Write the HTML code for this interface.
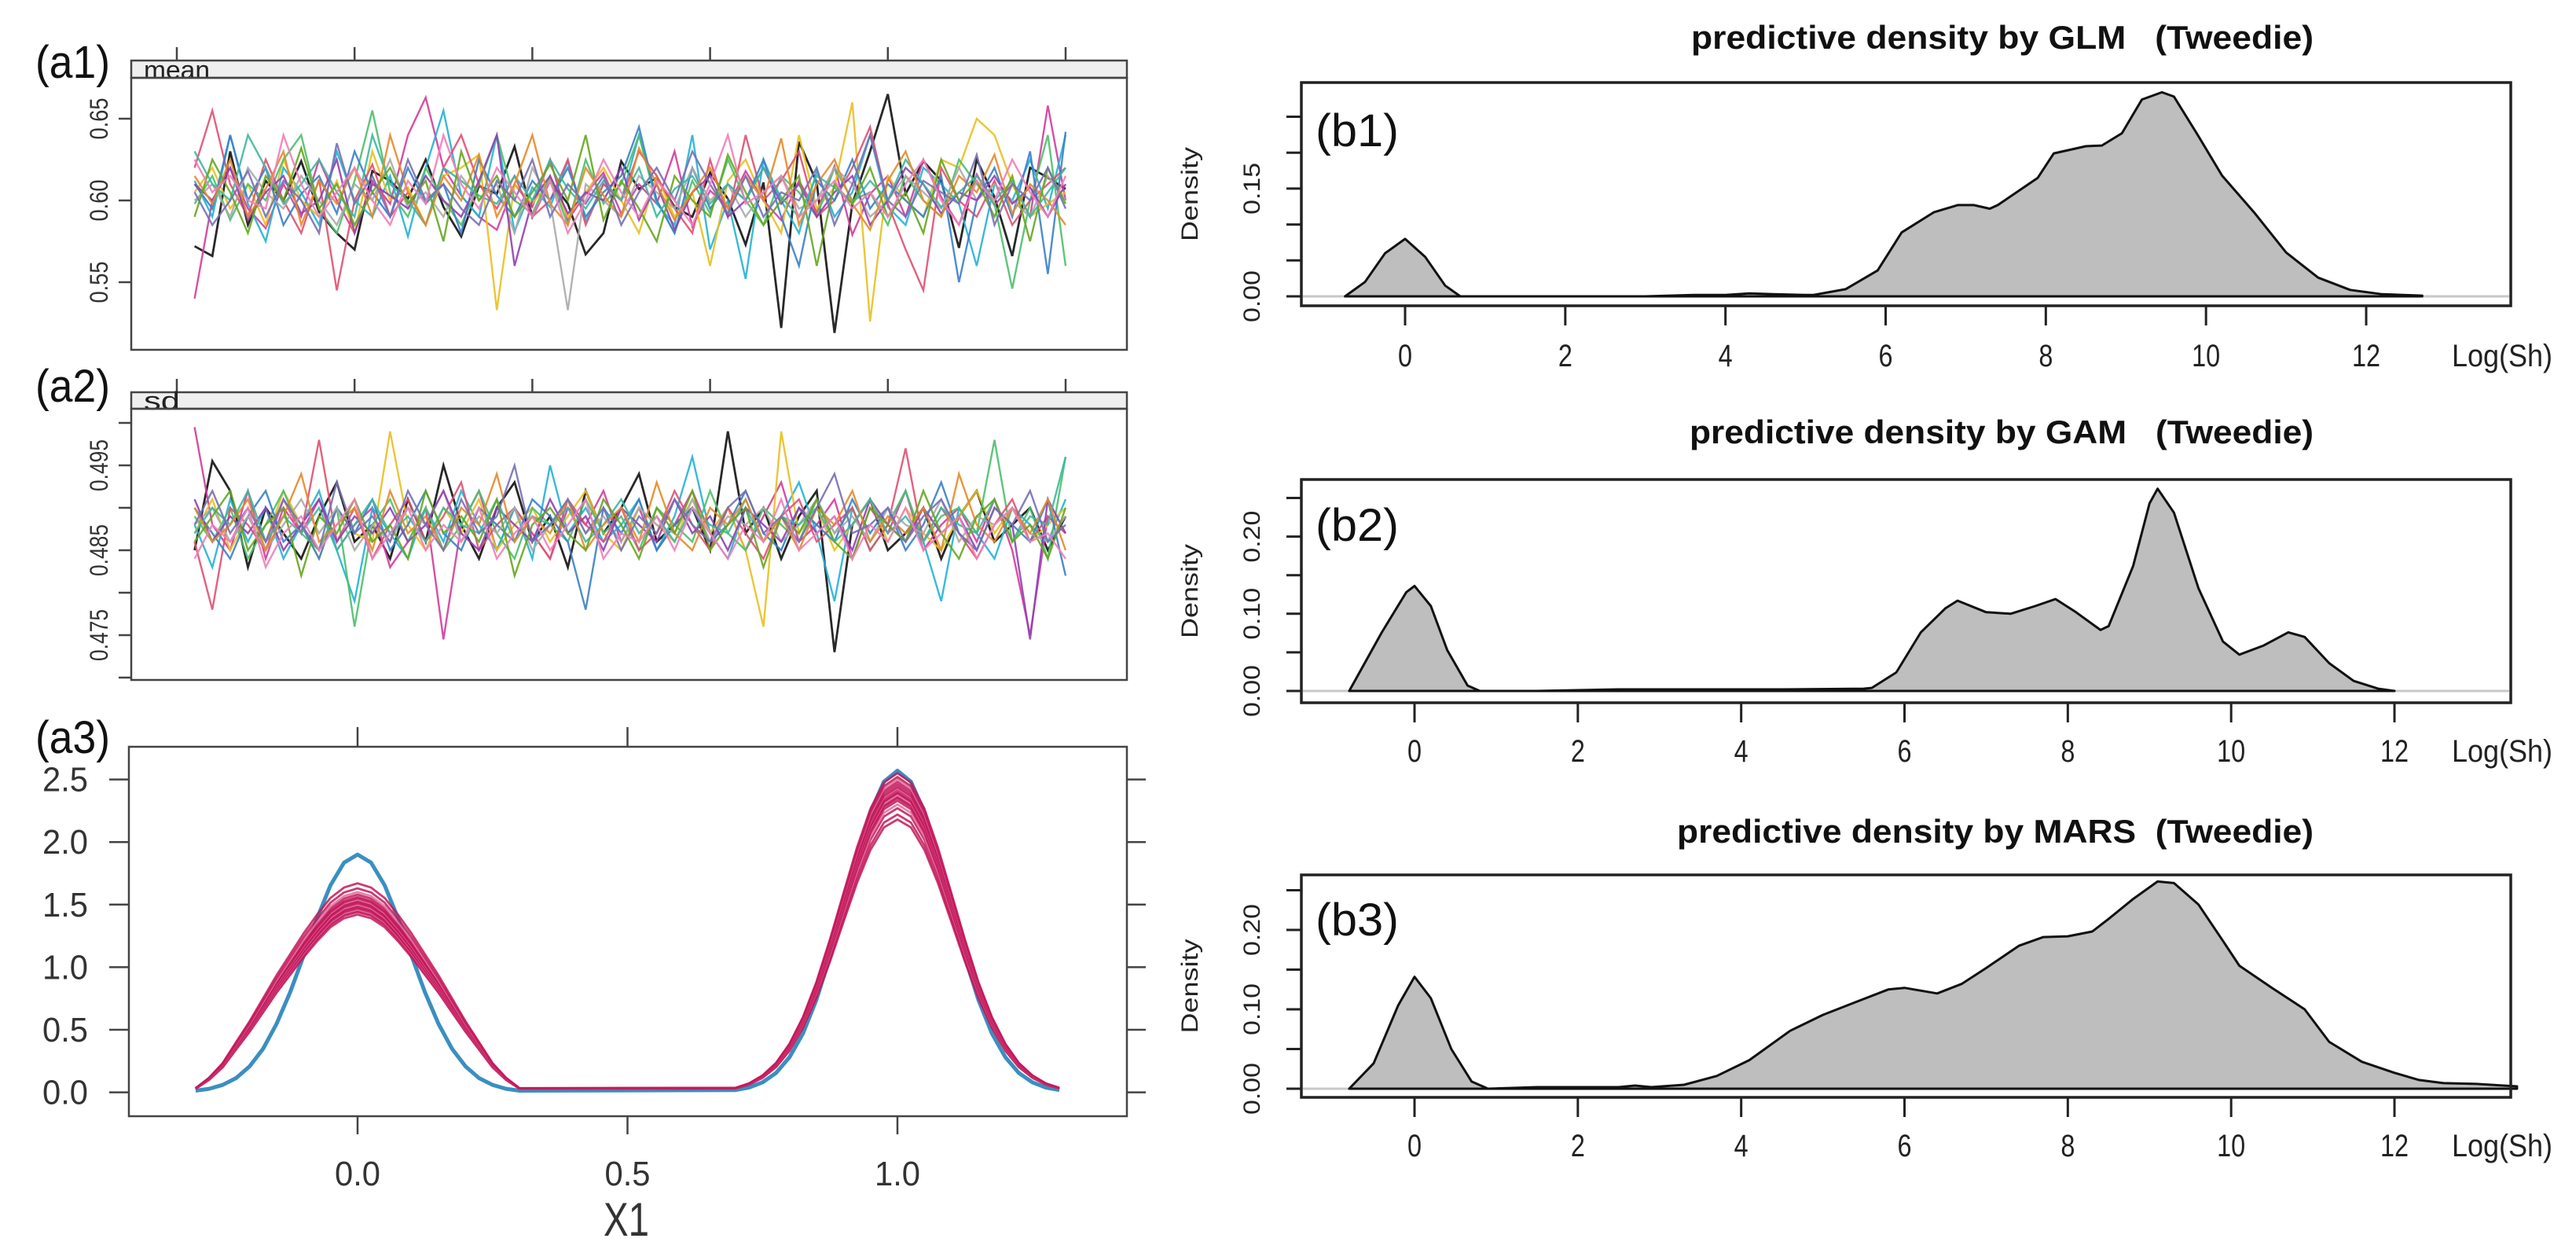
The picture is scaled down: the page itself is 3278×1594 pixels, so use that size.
<!DOCTYPE html>
<html><head><meta charset="utf-8">
<style>
html,body{margin:0;padding:0;background:#fff;}
svg{display:block;}
text{font-family:"Liberation Sans",sans-serif;}
</style></head>
<body>
<svg id="fig" xmlns="http://www.w3.org/2000/svg" width="3278" height="1594" viewBox="0 0 3278 1594">
<defs>
<clipPath id="clipA1"><rect x="168" y="100" width="1265" height="344"/></clipPath>
<clipPath id="clipA2"><rect x="168" y="521" width="1265" height="343"/></clipPath>
</defs>
<rect x="0" y="0" width="3278" height="1594" fill="#fff"/>
</svg>
<script>
// ===== Panel a1 / a2 data: 50 iterations per chain (values x1000 / x10000) =====
const a1Chains = [
[572,566,630,585,612,600,624,593,580,570,618,612,601,625,596,578,609,604,633,590,612,598,567,580,624,607,614,596,590,617,601,573,611,522,636,611,519,598,630,665,604,624,612,571,625,602,566,620,614,607],
[540,600,620,595,583,610,590,625,600,580,612,598,640,663,620,603,590,582,610,596,625,588,604,617,592,610,598,630,584,606,596,618,600,588,612,593,621,579,604,615,590,625,602,585,616,597,610,590,658,600],
[612,590,640,598,575,620,605,585,630,600,590,615,578,620,655,603,590,640,581,608,596,624,587,610,600,640,598,585,640,570,600,552,625,600,580,618,590,605,640,596,585,620,610,598,560,610,600,625,595,640],
[605,620,595,610,585,625,600,590,612,580,630,600,608,585,615,620,628,533,610,598,612,590,605,620,600,580,615,590,605,560,612,625,600,580,640,595,608,660,526,615,600,590,625,620,650,640,610,590,598,605],
[598,615,588,610,600,625,640,595,580,612,655,605,590,620,600,585,610,640,600,592,615,585,625,598,610,640,600,580,612,592,625,600,585,615,605,590,620,600,605,585,615,600,590,625,610,598,546,600,640,560],
[620,655,610,590,625,600,580,613,545,600,622,590,605,585,620,640,610,595,615,590,600,625,585,610,600,630,615,595,580,625,590,640,600,612,630,590,600,620,645,598,570,545,620,600,590,612,585,600,610,620],
[610,595,640,600,620,585,604,615,592,630,605,590,620,598,610,580,625,603,590,612,600,620,590,605,615,645,600,580,620,595,610,600,625,590,560,612,600,625,595,610,600,590,615,550,600,620,590,630,555,642],
[600,610,590,620,605,595,615,600,585,610,600,625,595,605,590,615,600,610,580,620,600,533,610,600,590,615,605,595,620,600,610,590,605,615,595,600,620,610,590,600,615,605,595,620,600,610,600,590,615,600],
[610,600,620,588,605,615,592,600,625,580,610,603,595,615,600,590,612,640,560,600,615,592,605,600,620,588,610,582,605,615,590,600,620,598,610,590,605,615,585,600,620,610,592,605,600,615,598,608,590,610],
[630,610,600,640,620,598,610,625,605,590,640,610,600,585,620,612,603,598,615,600,625,607,595,612,600,620,590,607,615,598,610,600,620,602,590,615,608,598,612,600,625,610,596,605,615,600,612,590,605,620],
[615,598,625,590,607,630,585,612,598,620,590,640,605,585,615,600,628,590,610,640,598,585,620,603,590,632,610,588,605,620,595,615,600,638,585,610,625,598,582,612,630,600,590,615,605,628,592,610,600,585],
[590,625,605,580,615,600,632,595,610,585,605,620,598,612,575,630,600,615,590,605,622,600,640,588,612,595,575,615,600,590,628,605,585,600,615,560,610,598,620,590,605,580,625,600,612,590,615,575,620,598],
[605,585,600,618,590,612,600,580,635,598,615,590,625,600,610,595,585,612,600,625,590,610,598,615,585,605,620,600,630,610,592,615,590,605,600,620,585,610,640,600,590,612,605,598,628,585,610,600,620,595],
[625,605,615,600,595,640,610,590,605,620,600,585,612,598,640,610,595,620,605,590,612,580,600,625,605,590,612,600,585,610,640,598,605,615,590,600,612,595,605,590,610,625,600,585,612,600,625,605,590,615]
];
const a2Chains = [
[4850,4955,4920,4830,4900,4870,4840,4890,4930,4860,4880,4840,4910,4860,4950,4880,4840,4900,4930,4860,4890,4830,4920,4870,4900,4940,4860,4880,4900,4850,4990,4870,4900,4840,4890,4920,4730,4880,4910,4850,4870,4900,4840,4890,4920,4860,4880,4900,4850,4890],
[4995,4880,4850,4920,4840,4900,4870,4910,4850,4880,4900,4830,4860,4900,4745,4880,4920,4850,4900,4870,4840,4900,4880,4920,4860,4900,4850,4880,4920,4870,4900,4850,4890,4930,4860,4880,4910,4840,4900,4870,4920,4850,4880,4900,4860,4910,4850,4750,4890,4870],
[4880,4830,4910,4860,4900,4840,4880,4920,4850,4790,4900,4870,4840,4900,4860,4920,4880,4850,4900,4840,4950,4870,4900,4860,4880,4910,4850,4890,4960,4870,4840,4900,4860,4890,4930,4870,4790,4900,4850,4880,4920,4860,4790,4900,4870,4840,4900,4880,4860,4910],
[4870,4910,4850,4890,4860,4920,4880,4840,4900,4870,4860,4990,4880,4850,4900,4870,4910,4850,4880,4900,4860,4890,4920,4870,4850,4900,4880,4860,4910,4870,4900,4850,4760,4990,4870,4900,4850,4880,4910,4860,4900,4870,4850,4890,4920,4870,4900,4860,4880,4900],
[4890,4860,4900,4840,4880,4920,4870,4850,4900,4760,4880,4910,4860,4900,4850,4880,4920,4870,4840,4900,4880,4860,4910,4870,4890,4850,4900,4880,4860,4920,4870,4850,4900,4880,4860,4910,4870,4900,4850,4880,4920,4860,4890,4900,4870,4980,4860,4900,4840,4960],
[4860,4780,4900,4880,4850,4910,4870,4980,4860,4900,4840,4880,4910,4860,4890,4930,4850,4880,4900,4870,4840,4910,4880,4860,4900,4850,4870,4920,4880,4850,4900,4870,4840,4890,4910,4860,4880,4900,4850,4880,4970,4860,4900,4870,4840,4880,4910,4860,4890,4870],
[4900,4870,4840,4890,4920,4860,4880,4840,4900,4870,4910,4850,4880,4920,4870,4850,4900,4880,4860,4910,4890,4860,4780,4900,4870,4910,4850,4880,4900,4860,4880,4920,4870,4850,4900,4880,4860,4910,4870,4900,4850,4880,4930,4870,4850,4900,4880,4860,4910,4820],
[4880,4900,4860,4890,4850,4880,4910,4870,4900,4850,4880,4860,4900,4880,4920,4860,4890,4870,4900,4850,4880,4910,4870,4890,4860,4900,4880,4870,4910,4860,4890,4880,4900,4860,4880,4910,4870,4890,4860,4900,4880,4870,4910,4860,4890,4880,4900,4870,4860,4890],
[4910,4860,4890,4870,4900,4850,4880,4910,4860,4890,4870,4900,4860,4880,4920,4870,4850,4900,4880,4860,4910,4870,4890,4850,4900,4880,4860,4910,4870,4890,4850,4900,4880,4860,4900,4870,4890,4850,4910,4880,4860,4900,4870,4890,4850,4900,4880,4745,4910,4870],
[4870,4900,4880,4920,4860,4890,4870,4900,4850,4880,4910,4870,4890,4860,4900,4880,4870,4910,4860,4890,4880,4900,4860,4880,4910,4870,4890,4860,4900,4880,4870,4910,4860,4890,4880,4900,4860,4880,4910,4870,4890,4860,4900,4880,4870,4910,4860,4890,4880,4960],
[4900,4860,4880,4910,4850,4890,4940,4860,4880,4900,4850,4920,4870,4890,4850,4900,4880,4940,4860,4890,4870,4910,4850,4880,4900,4860,4930,4870,4850,4900,4880,4910,4860,4890,4850,4900,4880,4920,4860,4890,4870,4900,4850,4940,4880,4860,4900,4870,4910,4850],
[4860,4890,4920,4850,4880,4900,4820,4890,4870,4910,4860,4880,4840,4920,4870,4890,4860,4910,4820,4880,4900,4870,4850,4910,4880,4840,4900,4870,4920,4850,4880,4900,4830,4890,4870,4910,4860,4840,4900,4880,4860,4920,4870,4840,4890,4910,4860,4880,4840,4900],
[4880,4920,4870,4900,4860,4910,4880,4850,4930,4870,4890,4860,4920,4880,4850,4910,4870,4890,4950,4860,4880,4910,4870,4900,4850,4890,4870,4910,4880,4860,4900,4920,4870,4890,4860,4900,4940,4870,4880,4900,4860,4890,4910,4870,4850,4900,4880,4920,4860,4880],
[4840,4880,4860,4900,4830,4870,4890,4850,4880,4910,4840,4870,4900,4850,4880,4860,4900,4840,4870,4890,4850,4880,4910,4840,4870,4860,4890,4850,4900,4870,4840,4880,4860,4910,4850,4870,4890,4840,4880,4860,4900,4850,4870,4890,4840,4880,4900,4860,4870,4840]
];
const a1TickLabels = ["0.55","0.60","0.65"];
const a1TickValues = [0.55,0.60,0.65];
const a2TickValues = [0.470,0.475,0.480,0.485,0.490,0.495,0.500];
const a2TickLabels = ["","0.475","","0.485","","0.495",""];
const iterTicks = [0,10,20,30,40,50];

// ===== Panel a3 data: density curves =====
const bumpOffsets = [0,0.025,0.05,0.075,0.1,0.125,0.15,0.175,0.2,0.225,0.25,0.275,0.3];
const profBlue = [1,0.966,0.871,0.732,0.574,0.42,0.288,0.183,0.109,0.06,0.031,0.015,0.007];
const profRedLeft = [1,0.98,0.93,0.85,0.76,0.66,0.56,0.45,0.34,0.24,0.14,0.07,0.02];
const profRedRight = [1,0.971,0.889,0.767,0.624,0.479,0.346,0.236,0.152,0.092,0.053,0.028,0.014];
const bluePeak0 = [1.9];
const bluePeak1 = [2.57];
const redPeak0 = [1.42,1.44,1.45,1.46,1.47,1.48,1.49,1.5,1.51,1.52,1.53,1.54,1.55,1.56,1.58,1.6,1.63,1.67];
const redPeak1 = [2.18,2.22,2.27,2.3,2.33,2.35,2.36,2.38,2.39,2.4,2.42,2.43,2.44,2.46,2.48,2.5,2.52,2.55];
const a3YTicks = [0,0.5,1.0,1.5,2.0,2.5];
const a3YLabels = ["0.0","0.5","1.0","1.5","2.0","2.5"];
const a3XTicks = [0,0.5,1.0];
const a3XLabels = ["0.0","0.5","1.0"];

// ===== Panels b: predictive densities =====
const glmX = [-0.75,-0.5,-0.25,0,0.25,0.5,0.69,1,2,3,3.6,4.0,4.3,4.6,5.0,5.1,5.5,5.9,6.2,6.6,6.9,7.1,7.3,7.4,7.9,8.1,8.5,8.7,8.95,9.2,9.45,9.6,9.9,10.2,10.6,11.0,11.4,11.8,12.2,12.7];
const glmY = [0,0.02,0.06,0.08,0.055,0.015,0,0,0,0,0.002,0.002,0.004,0.003,0.002,0.002,0.01,0.036,0.089,0.117,0.127,0.127,0.122,0.127,0.165,0.199,0.209,0.21,0.227,0.274,0.284,0.278,0.224,0.168,0.117,0.061,0.026,0.009,0.003,0.001];
const gamX = [-0.8,-0.4,-0.1,0,0.2,0.4,0.65,0.8,1.5,2.5,3.5,4.5,5.5,5.6,5.9,6.2,6.5,6.65,7.0,7.3,7.6,7.85,8.1,8.4,8.5,8.8,9.0,9.1,9.3,9.6,9.9,10.1,10.4,10.7,10.9,11.2,11.5,11.8,12.0];
const gamY = [0,0.076,0.128,0.136,0.11,0.053,0.007,0,0,0.002,0.002,0.002,0.003,0.004,0.024,0.076,0.107,0.117,0.102,0.1,0.11,0.119,0.102,0.079,0.084,0.162,0.243,0.262,0.231,0.133,0.064,0.047,0.059,0.076,0.07,0.036,0.013,0.003,0];
const marsX = [-0.8,-0.5,-0.2,0,0.2,0.45,0.7,0.9,1.5,2.5,2.7,2.9,3.3,3.7,4.1,4.6,5.0,5.4,5.8,6.0,6.4,6.7,7.0,7.4,7.7,8.0,8.3,8.5,8.8,9.1,9.3,9.6,9.9,10.1,10.5,10.9,11.2,11.6,12.0,12.3,12.6,13.0,13.5];
const marsY = [0,0.032,0.105,0.141,0.114,0.05,0.009,0,0.002,0.002,0.004,0.002,0.005,0.016,0.036,0.073,0.093,0.109,0.125,0.127,0.12,0.132,0.152,0.18,0.191,0.192,0.198,0.214,0.239,0.261,0.259,0.232,0.186,0.155,0.127,0.1,0.059,0.034,0.02,0.011,0.007,0.006,0.003];
const bXTicks = [0,2,4,6,8,10,12];
const bXLabels = ["0","2","4","6","8","10","12"];
const bYTicks = [0,0.05,0.1,0.15,0.2,0.25];
const b1YLabels = ["0.00","","","0.15","",""];
const b23YLabels = ["0.00","","0.10","","0.20",""];

const NS = "http://www.w3.org/2000/svg";
const svg = document.getElementById('fig');
function mk(tag, attrs, parent){
  const e = document.createElementNS(NS, tag);
  for (const k in attrs) e.setAttribute(k, attrs[k]);
  (parent||svg).appendChild(e);
  return e;
}
function lin(d0,d1,r0,r1){ return v => r0 + (v-d0)*(r1-r0)/(d1-d0); }
function poly(xs, ys){ return xs.map((x,i)=>(i?'L':'M')+x.toFixed(1)+','+ys[i].toFixed(1)).join(''); }

let el;
function panelLabel(txt, x, y, len, name){
  const t = mk('text',{x:x,y:y,'font-size':58,fill:'#111',textLength:len,lengthAdjust:'spacingAndGlyphs'});
  t.textContent = txt;
  
  
  return t;
}
panelLabel('(a1)',45,99,95,'panel-label-a1');
panelLabel('(a2)',45,511,95,'panel-label-a2');
panelLabel('(a3)',45,958,95,'panel-label-a3');
panelLabel('(b1)',1674,186,106,'panel-label-b1');
panelLabel('(b2)',1674,688,106,'panel-label-b2');
panelLabel('(b3)',1674,1190,106,'panel-label-b3');

const chainColors = ['#111111','#d23c9c','#22b3d4','#e8c020','#4cbf6a','#e05070','#3a7fc8','#aaaaaa','#9040b0','#3cb8a0','#e58a2a','#66a61e','#7570b3','#f07fb8'];
function tracePanel(cfg){
  const g = mk('g',{});
  
  
  const xS = lin(0,50,225,1356);
  iterTicks.forEach(v=>{
    el = mk('line',{x1:xS(v),x2:xS(v),y1:cfg.stripTop-17,y2:cfg.stripTop,stroke:'#444','stroke-width':2.5},g);
    
    
  });
  el = mk('rect',{x:167,y:cfg.stripTop,width:1267,height:cfg.stripBot-cfg.stripTop,fill:'#efefef',stroke:'#444','stroke-width':2.5},g);
  
  
  el = mk('text',{x:183,y:cfg.stripBot+1,'font-size':32,fill:'#222',textLength:cfg.stripLen,lengthAdjust:'spacingAndGlyphs'},g);
  el.textContent = cfg.strip;
  
  
  el = mk('rect',{x:167,y:cfg.stripBot,width:1267,height:cfg.bottom-cfg.stripBot,fill:'none',stroke:'#444','stroke-width':2.5},g);
  
  
  cfg.ticks.forEach((v,i)=>{
    const y = cfg.yS(v);
    el = mk('line',{x1:151,x2:167,y1:y,y2:y,stroke:'#444','stroke-width':2.5},g);
    
    
    if (cfg.labels[i]){
      el = mk('text',{transform:`translate(137,${y}) rotate(-90)`,'text-anchor':'middle','font-size':32,fill:'#333',textLength:cfg.labLen,lengthAdjust:'spacingAndGlyphs'},g);
      el.textContent = cfg.labels[i];
      
      
    }
  });
  const cg = mk('g',{'clip-path':cfg.clip},g);
  
  
  cfg.data.forEach((arr,k)=>{
    const xs = arr.map((_,i)=>xS(i+1));
    const ys = arr.map(v=>cfg.yS(v/cfg.div));
    el = mk('path',{d:poly(xs,ys),fill:'none',stroke:chainColors[k%chainColors.length],'stroke-width':k===0?2.8:2.4,'stroke-linejoin':'miter',opacity:0.9},cg);
    
    
  });
}
tracePanel({name:'trace-panel-mean',stripTop:77,stripBot:99,bottom:445,strip:'mean',stripLen:84,
  yS:lin(0.6,0.65,255,151),ticks:a1TickValues,labels:a1TickLabels,labLen:53,clip:'url(#clipA1)',data:a1Chains,div:1000});
tracePanel({name:'trace-panel-sd',stripTop:499,stripBot:520,bottom:865,strip:'sd',stripLen:46,
  yS:lin(0.495,0.485,592,700),ticks:a2TickValues,labels:a2TickLabels,labLen:66,clip:'url(#clipA2)',data:a2Chains,div:10000});

(function(){
  const g = mk('g',{});
  
  
  const xS = lin(0,1,455,1142), yS = lin(0,2.5,1389.6,991.6);
  el = mk('rect',{x:164,y:950,width:1270,height:470,fill:'none',stroke:'#444','stroke-width':2.5},g);
  
  
  a3YTicks.forEach((v,i)=>{
    const y = yS(v);
    el = mk('line',{x1:139,x2:164,y1:y,y2:y,stroke:'#444','stroke-width':2.5},g);
    
    
    el = mk('line',{x1:1434,x2:1458,y1:y,y2:y,stroke:'#444','stroke-width':2.5},g);
    
    
    el = mk('text',{x:83,y:y+15,'text-anchor':'middle','font-size':44,fill:'#333',textLength:58,lengthAdjust:'spacingAndGlyphs'},g);
    el.textContent = a3YLabels[i];
    
    
  });
  a3XTicks.forEach((v,i)=>{
    const x = xS(v);
    el = mk('line',{x1:x,x2:x,y1:925,y2:950,stroke:'#444','stroke-width':2.5},g);
    
    
    el = mk('line',{x1:x,x2:x,y1:1420,y2:1443,stroke:'#444','stroke-width':2.5},g);
    
    
    el = mk('text',{x:x,y:1508,'text-anchor':'middle','font-size':44,fill:'#333',textLength:58,lengthAdjust:'spacingAndGlyphs'},g);
    el.textContent = a3XLabels[i];
    
    
  });
  el = mk('text',{x:797,y:1572,'text-anchor':'middle','font-size':60,fill:'#333',textLength:58,lengthAdjust:'spacingAndGlyphs'},g);
  el.textContent = 'X1';
  
  

  function curve(p0, p1, profL, profR){
    const xs=[], ys=[];
    for (let k=bumpOffsets.length-1;k>=0;k--){ xs.push(-bumpOffsets[k]); ys.push(p0*profL[k]); }
    for (let k=1;k<bumpOffsets.length;k++){ xs.push(bumpOffsets[k]); ys.push(p0*profL[k]); }
    for (let k=bumpOffsets.length-1;k>=0;k--){ xs.push(1-bumpOffsets[k]); ys.push(p1*profR[k]); }
    for (let k=1;k<bumpOffsets.length;k++){ xs.push(1+bumpOffsets[k]); ys.push(p1*profR[k]); }
    return poly(xs.map(xS), ys.map(yS));
  }
  bluePeak0.forEach((p,i)=>{
    el = mk('path',{d:curve(p,bluePeak1[i],profBlue,profBlue),fill:'none',stroke:'#3a8fc0','stroke-width':5,'stroke-linejoin':'round'},g);
    
    
  });
  redPeak0.forEach((p,i)=>{
    el = mk('path',{d:curve(p,redPeak1[i],profRedLeft,profRedRight),fill:'none',stroke:i%4===3?'#e0709a':'#c2185b','stroke-width':2.8,'stroke-linejoin':'round',opacity:0.85},g);
    
    
  });
})();

function densPanel(cfg){
  const g = mk('g',{});
  
  
  const xS = cfg.xS, yS = cfg.yS;
  el = mk('text',{x:cfg.titleX,y:cfg.titleY,'font-size':42,'font-weight':'bold',fill:'#111',textLength:cfg.titleLen,lengthAdjust:'spacingAndGlyphs'},g);
  el.textContent = cfg.title;
  
  
  el = mk('line',{x1:1658,x2:3193,y1:yS(0),y2:yS(0),stroke:'#c8c8c8','stroke-width':3},g);
  
  
  const xs = cfg.x.map(xS), ys = cfg.y.map(yS);
  const d = poly(xs, ys) + 'L' + xs[xs.length-1].toFixed(1)+','+yS(0).toFixed(1) + 'L' + xs[0].toFixed(1)+','+yS(0).toFixed(1)+'Z';
  el = mk('path',{d:d,fill:'#bebebe',stroke:'#111','stroke-width':3,'stroke-linejoin':'round'},g);
  
  
  el = mk('rect',{x:1656,y:cfg.top,width:1539,height:cfg.bottom-cfg.top,fill:'none',stroke:'#222','stroke-width':3.5},g);
  
  
  bYTicks.forEach((v,i)=>{
    const y = yS(v);
    el = mk('line',{x1:1637,x2:1656,y1:y,y2:y,stroke:'#222','stroke-width':3},g);
    
    
    if (cfg.yLabels[i]){
      el = mk('text',{transform:`translate(1603,${y}) rotate(-90)`,'text-anchor':'middle','font-size':30,fill:'#222',textLength:66,lengthAdjust:'spacingAndGlyphs'},g);
      el.textContent = cfg.yLabels[i];
      
      
    }
  });
  el = mk('text',{transform:`translate(1524,${(cfg.top+cfg.bottom)/2}) rotate(-90)`,'text-anchor':'middle','font-size':30,fill:'#222',textLength:120,lengthAdjust:'spacingAndGlyphs'},g);
  el.textContent = 'Density';
  
  
  bXTicks.forEach((v,i)=>{
    const x = xS(v);
    el = mk('line',{x1:x,x2:x,y1:cfg.bottom,y2:cfg.bottom+25,stroke:'#222','stroke-width':3},g);
    
    
    el = mk('text',{x:x,y:cfg.labY,'text-anchor':'middle','font-size':40,fill:'#222',textLength:bXLabels[i].length*18,lengthAdjust:'spacingAndGlyphs'},g);
    el.textContent = bXLabels[i];
    
    
  });
  el = mk('text',{x:3120,y:cfg.labY,'font-size':40,fill:'#222',textLength:128,lengthAdjust:'spacingAndGlyphs'},g);
  el.textContent = 'Log(Sh)';
  
  
}
const SP = '\u00a0';
densPanel({name:'density-panel-glm',title:'predictive density by GLM'+SP+SP+SP+'(Tweedie)',titleX:2152,titleY:62,titleLen:792,
  top:105,bottom:389,xS:lin(0,12,1788,3011),yS:lin(0,0.05,377,331.3),x:glmX,y:glmY,yLabels:b1YLabels,labY:466});
densPanel({name:'density-panel-gam',title:'predictive density by GAM'+SP+SP+SP+'(Tweedie)',titleX:2150,titleY:564,titleLen:794,
  top:610,bottom:894,xS:lin(0,12,1800,3047),yS:lin(0,0.1,879,780.8),x:gamX,y:gamY,yLabels:b23YLabels,labY:969});
densPanel({name:'density-panel-mars',title:'predictive density by MARS'+SP+SP+'(Tweedie)',titleX:2134,titleY:1072,titleLen:810,
  top:1113,bottom:1396,xS:lin(0,12,1800,3047),yS:lin(0,0.1,1385,1284),x:marsX,y:marsY,yLabels:b23YLabels,labY:1471});
</script>
</body></html>
